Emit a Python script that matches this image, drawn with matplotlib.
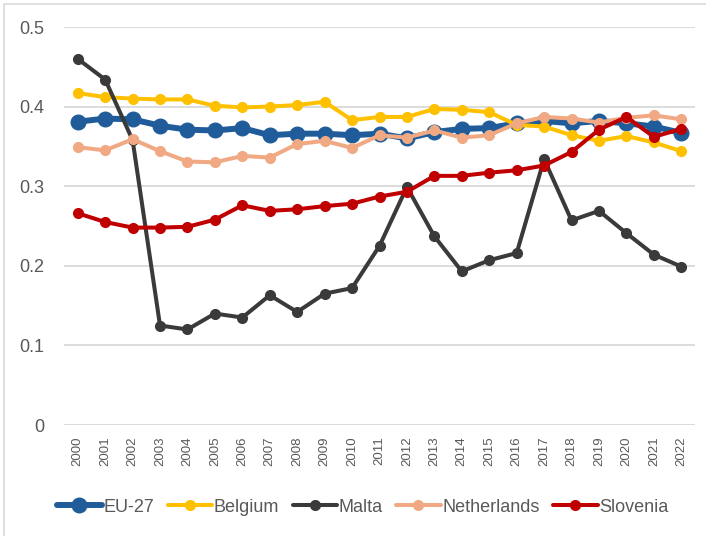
import numpy as np
import matplotlib.pyplot as plt
from matplotlib.patches import Rectangle

plt.rcParams['font.family'] = ['Liberation Sans', 'DejaVu Sans']

years = [str(y) for y in range(2000, 2023)]

eu27 = [0.381, 0.385, 0.384, 0.376, 0.371, 0.370, 0.373, 0.364, 0.366, 0.366, 0.364, 0.366,
        0.360, 0.368, 0.372, 0.373, 0.379, 0.382, 0.379, 0.382, 0.379, 0.375, 0.367]
belgium = [0.417, 0.412, 0.410, 0.409, 0.409, 0.401, 0.399, 0.400, 0.402, 0.406, 0.383, 0.387,
           0.387, 0.397, 0.396, 0.393, 0.377, 0.375, 0.364, 0.357, 0.363, 0.355, 0.344]
malta = [0.460, 0.434, 0.358, 0.125, 0.120, 0.140, 0.135, 0.163, 0.142, 0.165, 0.172, 0.225,
         0.299, 0.237, 0.193, 0.207, 0.216, 0.334, 0.257, 0.269, 0.241, 0.214, 0.199]
netherlands = [0.349, 0.345, 0.359, 0.344, 0.331, 0.330, 0.338, 0.336, 0.353, 0.357, 0.348, 0.364,
               0.361, 0.370, 0.361, 0.364, 0.379, 0.387, 0.385, 0.380, 0.386, 0.389, 0.384]
slovenia = [0.266, 0.255, 0.248, 0.248, 0.249, 0.258, 0.276, 0.269, 0.271, 0.275, 0.278, 0.287,
            0.293, 0.313, 0.313, 0.317, 0.320, 0.326, 0.343, 0.371, 0.387, 0.362, 0.372]

series = [('EU-27', eu27, '#1F5C99', 4.3, 10.5),
          ('Belgium', belgium, '#FFC000', 2.9, 7.0),
          ('Malta', malta, '#3A3A3A', 2.9, 7.0),
          ('Netherlands', netherlands, '#F1A983', 2.9, 7.0),
          ('Slovenia', slovenia, '#C00000', 2.9, 7.0)]

fig = plt.figure(figsize=(7.06, 5.36), dpi=100)
ax = fig.add_axes([64/706, 1-425/536, (695-64)/706, (425-27)/536])

x = np.arange(len(years))
for i, (name, vals, col, lw, ms) in enumerate(series):
    ax.plot(x, vals, color=col, lw=lw, marker='o', ms=ms, label=name,
            solid_capstyle='round', solid_joinstyle='round', zorder=3+i)

ax.set_xlim(-0.5, len(years)-0.5)
ax.set_ylim(0, 0.5)
ax.set_yticks([0, 0.1, 0.2, 0.3, 0.4, 0.5])
ax.set_yticklabels(['0', '0.1', '0.2', '0.3', '0.4', '0.5'])
ax.set_xticks(x)
ax.set_xticklabels(years, rotation=90)
ax.grid(axis='y', color='#D9D9D9', lw=1.3, zorder=0)
ax.set_axisbelow(True)
for s in ax.spines.values():
    s.set_visible(False)
ax.tick_params(axis='y', length=0, pad=14, labelsize=13, labelcolor='#595959')
ax.tick_params(axis='x', length=0, pad=8, labelsize=9.5, labelcolor='#595959')

leg = fig.legend(loc='center', bbox_to_anchor=(363/706, 1-507/536), ncol=5, frameon=False,
                 fontsize=13, handlelength=2.45, handletextpad=0.1, columnspacing=0.75,
                 labelcolor='#595959')

fig.patches.append(Rectangle((4/706, -0.01), 1.0, 1-4/536+0.01, transform=fig.transFigure,
                             fill=False, edgecolor='#D9D9D9', lw=1.2))

plt.savefig('out.png', dpi=100)
